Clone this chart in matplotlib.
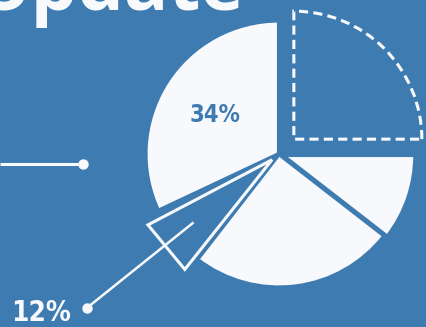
import matplotlib.pyplot as plt
import numpy as np
from matplotlib.patches import Polygon

# slice shares (counter-clockwise from 3 o'clock)
slices = ["empty", "big", "small", "bottom", "right"]
shares = [25, 32, 7.5, 25, 10.5]
labels = {"big": "34%", "small": "12%"}

bg = "#3E7BB1"
white = "#F7F9FC"
num_font = dict(family="DejaVu Sans", fontstretch="condensed", weight="bold")

fig = plt.figure(figsize=(4.27, 3.27), dpi=100)
fig.patch.set_facecolor(bg)
ax = fig.add_axes([0, 0, 1, 1])
ax.set_facecolor(bg)

cx, cy, R = 279, 173, 133.5
explode = [21, 0, 0, 0, 3]  # data units
wedges, _ = ax.pie(shares, startangle=0, counterclock=True, radius=R,
                   center=(cx, cy), explode=explode,
                   wedgeprops=dict(facecolor=white, edgecolor=bg, linewidth=3))

# dashed "missing" quadrant
w = wedges[0]
w.set_radius(128)
w.set_facecolor("none")
w.set_edgecolor(white)
w.set_linewidth(2.2)
w.set_linestyle((0, (3.0, 1.7)))

# the 12% slice is drawn as an outlined triangle pulled out a little
small = wedges[2]
small.set_visible(False)
t1, t2 = np.radians(small.theta1 + 2.5), np.radians(small.theta2 - 0.7)
mid = (t1 + t2) / 2
ax_, ay_ = cx + 9 * np.cos(mid), cy + 9 * np.sin(mid)
L = 1.05 * R
tri = Polygon([[ax_, ay_],
               [ax_ + L * np.cos(t1), ay_ + L * np.sin(t1)],
               [ax_ + L * np.cos(t2), ay_ + L * np.sin(t2)]],
              closed=True, facecolor="none", edgecolor=white, linewidth=2.2,
              joinstyle="miter")
ax.add_patch(tri)

# leader line for 12%, along the middle of the slice
lead = np.radians((small.theta1 + small.theta2) / 2)
r0, r1 = 0.82 * R, 1.84 * R
x0, y0 = cx + r0 * np.cos(lead), cy + r0 * np.sin(lead)
x1, y1 = cx + r1 * np.cos(lead), cy + r1 * np.sin(lead)
ax.plot([x0, x1], [y0, y1], color=white, lw=1.8, solid_capstyle="butt")
ax.plot([x1], [y1], "o", color=white, ms=6.5)
ax.text(x1 - 16, y1 - 5, labels["small"], color=white, fontsize=20,
        ha="right", va="center", **num_font)

# 34% label
ax.text(215, 212, labels["big"], color=bg, fontsize=17,
        ha="center", va="center", **num_font)

# leader line coming from the left
ax.plot([0, 83], [163, 163], color=white, lw=2.2, solid_capstyle="butt")
ax.plot([83], [163], "o", color=white, ms=6.5)

# title, mostly cut off at the top
ax.text(245, 317, "Update", color=white, fontsize=53, weight="bold",
        family=["Open Sans", "DejaVu Sans"], ha="right", va="baseline")

ax.set_xlim(0, 427)
ax.set_ylim(0, 327)
ax.set_aspect("equal")
ax.axis("off")

fig.savefig("out.png", dpi=100, facecolor=bg)
